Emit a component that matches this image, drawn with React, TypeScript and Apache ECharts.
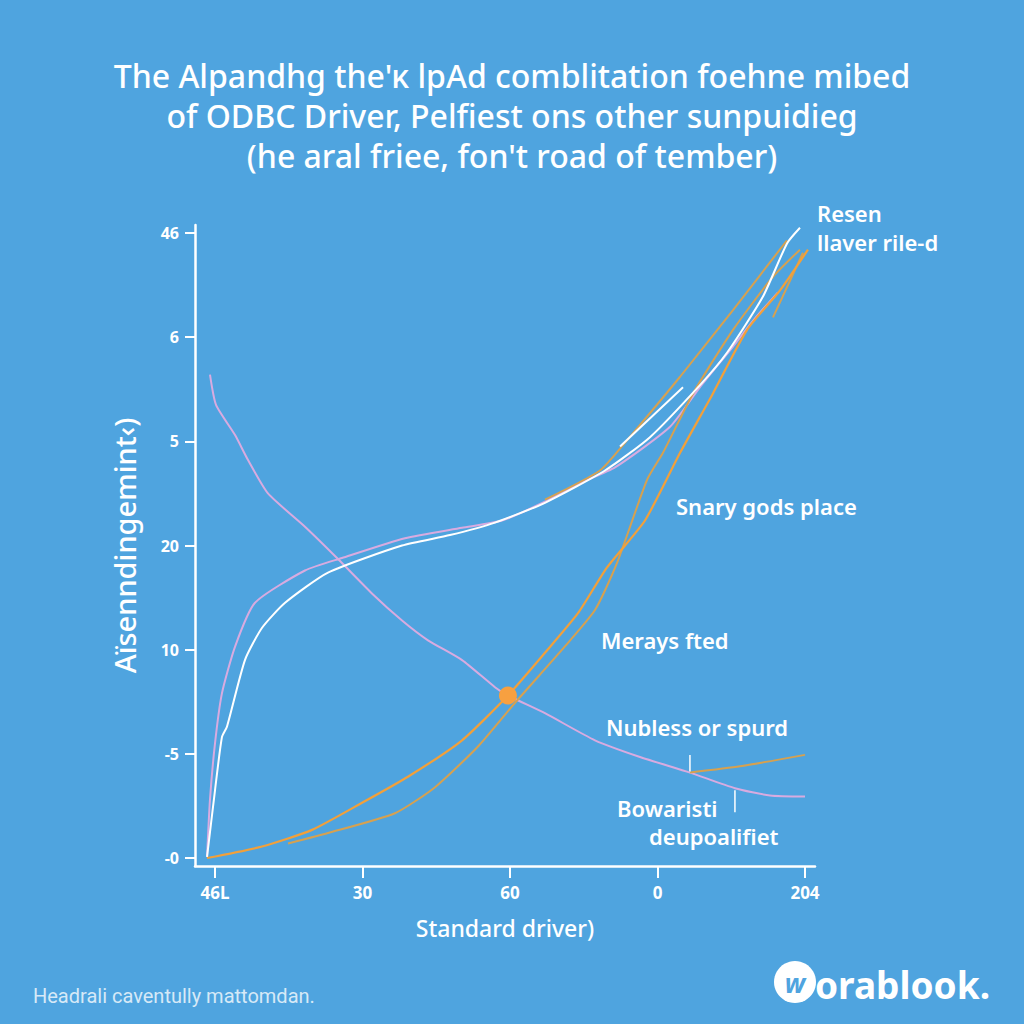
import React, { useEffect, useRef } from "react";
import * as echarts from "echarts";

// ---- Data ----
const xTickValues = [0, 1, 2, 3, 4];
const xTickLabels = ["46L", "30", "60", "0", "204"];
const yTickValues = [0, 1, 2, 3, 4, 5, 6];
const yTickLabels = ["-0", "-5", "10", "20", "5", "6", "46"];
const titleLines = [
  "The Alpandhg the'ĸ lpAd comblitation foehne mibed",
  "of ODBC Driver, Pelfiest ons other sunpuidieg",
  "(he aral friee, fon't road of tember)",
];
const xAxisName = "Standard driver)";
const yAxisName = "Aïsenndingemint‹)";
const footnote = "Headrali caventully mattomdan.";
const brand = "orablook.";

const pinkDown: number[][] = [
  [-0.034, 4.64], [0.007, 4.35], [0.136, 4.06], [0.224, 3.82], [0.359, 3.5],
  [0.61, 3.18], [0.834, 2.87], [1.064, 2.54], [1.268, 2.28], [1.444, 2.09],
  [1.675, 1.9], [1.898, 1.64], [1.986, 1.56], [2.237, 1.39], [2.576, 1.13],
  [2.881, 0.97], [3.22, 0.82], [3.525, 0.67], [3.763, 0.6], [4.0, 0.59],
];
const pinkUp: number[][] = [
  [-0.054, 0.01], [-0.034, 0.56], [0.0, 1.1], [0.047, 1.58], [0.136, 2.03],
  [0.271, 2.45], [0.61, 2.76], [0.861, 2.88], [1.288, 3.07], [1.675, 3.17],
  [1.946, 3.24], [2.237, 3.42], [2.475, 3.6], [2.712, 3.75], [3.085, 4.14],
  [3.288, 4.52], [3.512, 4.91], [3.661, 5.18], [3.817, 5.43],
];
const whiteMain: number[][] = [
  [-0.054, 0.01], [0.0, 0.65], [0.047, 1.16], [0.081, 1.26], [0.203, 1.9],
  [0.319, 2.21], [0.475, 2.45], [0.766, 2.74], [1.268, 3.0], [1.593, 3.1],
  [1.898, 3.22], [2.237, 3.41], [2.644, 3.72], [2.949, 4.04], [3.288, 4.54],
  [3.471, 4.85], [3.715, 5.39], [3.878, 5.9], [3.966, 6.05],
];
const whiteBranch: number[][] = [[2.746, 3.95], [3.173, 4.52]];
const orangeMain: number[][] = [
  [-0.054, 0.0], [0.319, 0.11], [0.658, 0.27], [0.997, 0.53], [1.308, 0.78],
  [1.675, 1.13], [1.986, 1.56], [2.237, 1.97], [2.461, 2.35], [2.658, 2.79],
  [2.915, 3.24], [3.153, 3.89], [3.376, 4.46], [3.607, 5.07], [3.831, 5.45],
  [4.02, 5.84],
];
const orangeSecond: number[][] = [
  [0.495, 0.14], [0.766, 0.24], [1.22, 0.43], [1.492, 0.68], [1.783, 1.07],
  [2.034, 1.49], [2.353, 2.0], [2.576, 2.38], [2.725, 2.83], [2.929, 3.63],
  [3.037, 3.89], [3.241, 4.46], [3.512, 5.07], [3.783, 5.58], [3.966, 5.84],
];
const orangeUpper: number[][] = [
  [2.237, 3.44], [2.61, 3.72], [2.793, 4.01], [3.153, 4.62], [3.512, 5.26], [3.878, 5.93],
];
const orangeShort: number[][] = [[3.783, 5.19], [3.986, 5.81]];
const orangeTail: number[][] = [[3.22, 0.82], [3.559, 0.88], [4.0, 0.99]];
const pointerA: number[][] = [[3.22, 0.99], [3.22, 0.83]];
const pointerB: number[][] = [[3.525, 0.65], [3.525, 0.44]];
const highlightDot: number[][] = [[1.986, 1.56]];

const annotations = [
  { text: "Resen", x: 817, y: 213 },
  { text: "llaver rile-d", x: 817, y: 242 },
  { text: "Snary gods place", x: 676, y: 506 },
  { text: "Merays fted", x: 601, y: 640 },
  { text: "Nubless or spurd", x: 606, y: 727 },
  { text: "Bowaristi", x: 617, y: 808 },
  { text: "deupoalifiet", x: 649, y: 836 },
];

// ---- Layout ----
const GRID = { left: 195, right: 209, top: 225, bottom: 158 };
// axis extents so that tick 0 of x sits 20px right of the y axis line and tick 0 of y sits 8px above the x axis line
const X_MIN = -20 / 147.5;
const X_MAX = 4 + 10 / 147.5;
const Y_MIN = -8 / 104.167;
const Y_MAX = 6 + 8 / 104.167;

const BG = "#4FA4DF";
const PINK = "#D8ABE0";
const ORANGE = "#F2A03A";
const ORANGE_DULL = "#D6A150";
const FONT = "'Noto Sans', 'Open Sans', sans-serif";

export default function App() {
  const ref = useRef<HTMLDivElement>(null);
  useEffect(() => {
    document.body.style.margin = "0";
    const chart = echarts.init(ref.current!, null, { renderer: "svg" });
    const line = (name: string, data: number[][], color: string, width = 2, z = 2) => ({
      name,
      type: "line",
      data,
      showSymbol: false,
      symbol: "none",
      smooth: 0.2,
      clip: false,
      lineStyle: { color, width },
      z,
    });
    chart.setOption({
      animation: false,
      backgroundColor: BG,
      title: {
        text: titleLines.join("\n"),
        left: "center",
        top: 50,
        textStyle: {
          color: "#FFFFFF",
          fontSize: 32,
          fontWeight: 500,
          lineHeight: 40,
          fontFamily: FONT,
        },
      },
      grid: GRID,
      xAxis: {
        type: "value", min: X_MIN, max: X_MAX,
        name: xAxisName, nameLocation: "middle", nameGap: 50,
        nameTextStyle: { color: "#FFFFFF", fontSize: 23, fontFamily: FONT, fontWeight: 500 },
        axisLine: { show: true, onZero: false, lineStyle: { color: "#FFFFFF", width: 2.5 } },
        axisTick: { show: true, customValues: xTickValues, length: 12, lineStyle: { color: "#FFFFFF", width: 2 } },
        axisLabel: {
          customValues: xTickValues,
          color: "#FFFFFF", fontSize: 17, fontWeight: "bold", fontFamily: FONT, margin: 18,
          formatter: (v: number) => xTickLabels[Math.round(v)] ?? "",
        },
        splitLine: { show: false },
      },
      yAxis: {
        type: "value", min: Y_MIN, max: Y_MAX,
        name: yAxisName, nameLocation: "middle", nameGap: 56,
        nameTextStyle: { color: "#FFFFFF", fontSize: 29, fontFamily: FONT, fontWeight: 500 },
        axisLine: { show: true, onZero: false, lineStyle: { color: "#FFFFFF", width: 2.5 } },
        axisTick: { show: true, customValues: yTickValues, length: 10, lineStyle: { color: "#FFFFFF", width: 2 } },
        axisLabel: {
          customValues: yTickValues,
          color: "#FFFFFF", fontSize: 16, fontWeight: "bold", fontFamily: FONT, margin: 16,
          formatter: (v: number) => yTickLabels[Math.round(v)] ?? "",
        },
        splitLine: { show: false },
      },
      series: [
        line("pinkDown", pinkDown, PINK),
        line("pinkUp", pinkUp, PINK),
        line("orangeSecond", orangeSecond, ORANGE_DULL),
        line("orangeUpper", orangeUpper, ORANGE_DULL),
        line("orangeShort", orangeShort, ORANGE_DULL),
        line("orangeTail", orangeTail, ORANGE_DULL),
        line("orangeMain", orangeMain, ORANGE, 2.2, 3),
        line("whiteMain", whiteMain, "#FFFFFF", 2, 4),
        line("whiteBranch", whiteBranch, "#FFFFFF", 2, 4),
        line("pointerA", pointerA, "#FFFFFF", 1.5, 4),
        line("pointerB", pointerB, "#FFFFFF", 1.5, 4),
        {
          name: "dot", type: "scatter",
          data: highlightDot, symbolSize: 18, itemStyle: { color: "#F7A040", opacity: 1 }, z: 5,
        },
      ],
      graphic: [
        ...annotations.map((a) => ({
          type: "text",
          x: a.x,
          y: a.y,
          style: {
            text: a.text, fill: "#FFFFFF", fontSize: 22, fontWeight: 600,
            fontFamily: FONT, textVerticalAlign: "middle",
          },
        })),
        {
          type: "text", x: 33, y: 996,
          style: { text: footnote, fill: "#D6E9F7", fontSize: 20, fontFamily: "Roboto, sans-serif", textVerticalAlign: "middle" },
        },
        { type: "circle", shape: { cx: 795, cy: 982, r: 21 }, style: { fill: "#FFFFFF" } },
        {
          type: "text", x: 795, y: 983,
          style: { text: "w", fill: BG, fontSize: 26, fontWeight: "bold", fontStyle: "italic", fontFamily: FONT, textAlign: "center", textVerticalAlign: "middle" },
        },
        {
          type: "text", x: 815, y: 984,
          style: { text: brand, fill: "#FFFFFF", fontSize: 37, fontWeight: "bold", fontFamily: FONT, textVerticalAlign: "middle" },
        },
      ],
    });
    return () => chart.dispose();
  }, []);
  return <div ref={ref} style={{ width: 1024, height: 1024, background: BG }} />;
}
